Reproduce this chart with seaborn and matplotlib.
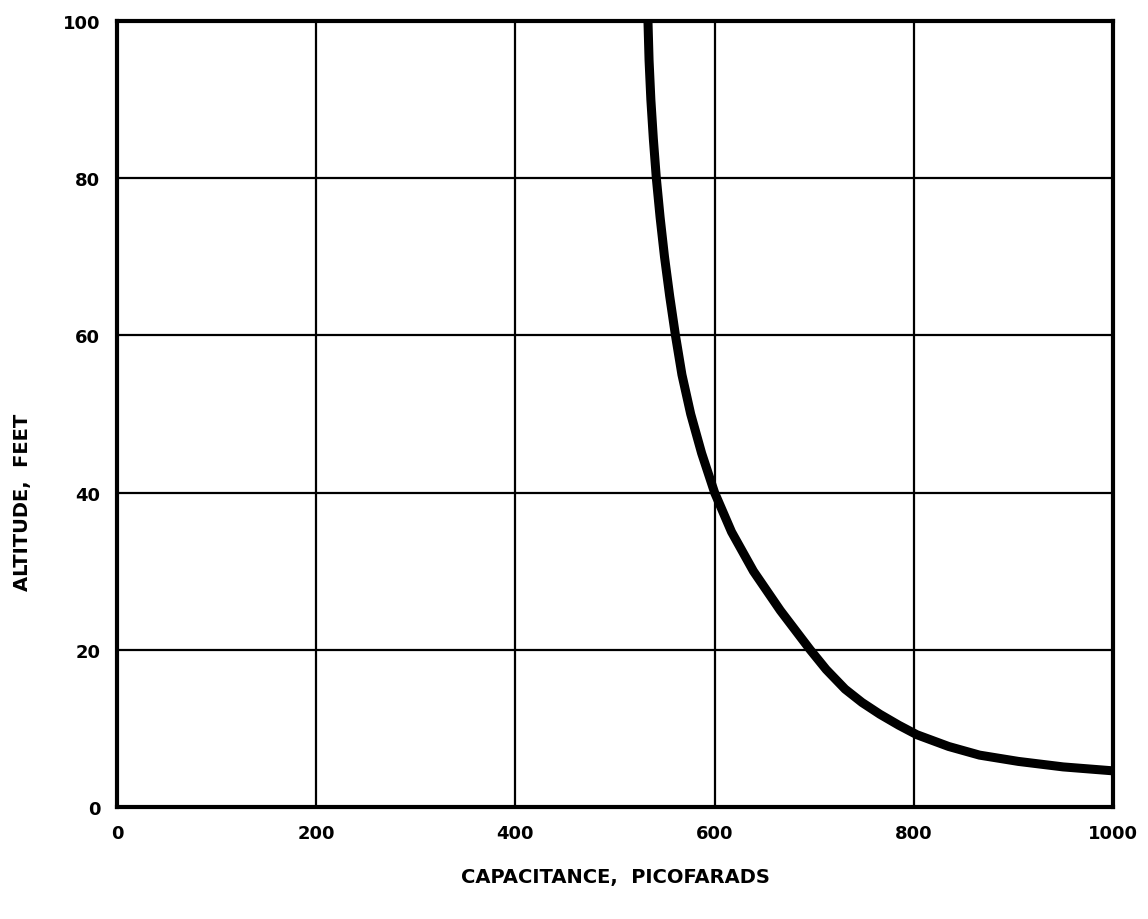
import numpy as np
import pandas as pd
import matplotlib
matplotlib.use("Agg")
import matplotlib.pyplot as plt
import seaborn as sns

# valores (curva altitud vs capacitancia)
capacitancia = [533.1, 534.2, 536.0, 538.5, 541.5, 545.3, 549.7, 554.9, 560.7,
                567.2, 576, 587, 600, 617, 639, 666, 696, 712, 731, 748, 766,
                785, 803, 835, 866, 905, 950, 1000]
altitud = [100, 95, 90, 85, 80, 75, 70, 65, 60,
           55, 50, 45, 40, 35, 30, 25, 20, 17.5, 15, 13.3, 11.8,
           10.4, 9.2, 7.7, 6.6, 5.8, 5.1, 4.6]
x_ticks = [0, 200, 400, 600, 800, 1000]
y_ticks = [0, 20, 40, 60, 80, 100]

df = pd.DataFrame({"cap": capacitancia, "alt": altitud})

sns.set_style("white")
plt.rcParams["font.family"] = ["DejaVu Sans"]
plt.rcParams["font.weight"] = "bold"
plt.rcParams["text.color"] = "black"
plt.rcParams["axes.labelcolor"] = "black"

fig = plt.figure(figsize=(11.48, 9.2), dpi=100)
ax = fig.add_axes([117 / 1148, 1 - 808 / 920, 996 / 1148, 786 / 920])

sns.lineplot(data=df, x="cap", y="alt", ax=ax, color="black", linewidth=6.5,
             solid_capstyle="butt", solid_joinstyle="round")

ax.set_xlim(0, 1000)
ax.set_ylim(0, 100)
ax.set_xticks(x_ticks)
ax.set_yticks(y_ticks)
ax.set_xticklabels([str(t) for t in x_ticks], fontsize=13, fontweight="bold")
ax.set_yticklabels([str(t) for t in y_ticks], fontsize=13, fontweight="bold")
ax.tick_params(length=0, pad=12, colors="black")
ax.grid(True, color="black", linewidth=1.6)
ax.set_axisbelow(True)
for s in ax.spines.values():
    s.set_color("black")
    s.set_linewidth(3)

ax.set_xlabel("CAPACITANCE,  PICOFARADS", fontsize=14, fontweight="bold")
ax.set_ylabel("ALTITUDE,  FEET", fontsize=14, fontweight="bold")
ax.xaxis.set_label_coords(0.5, -0.076)
ax.yaxis.set_label_coords(-0.085, 0.389)

fig.savefig("out.png", dpi=100)
